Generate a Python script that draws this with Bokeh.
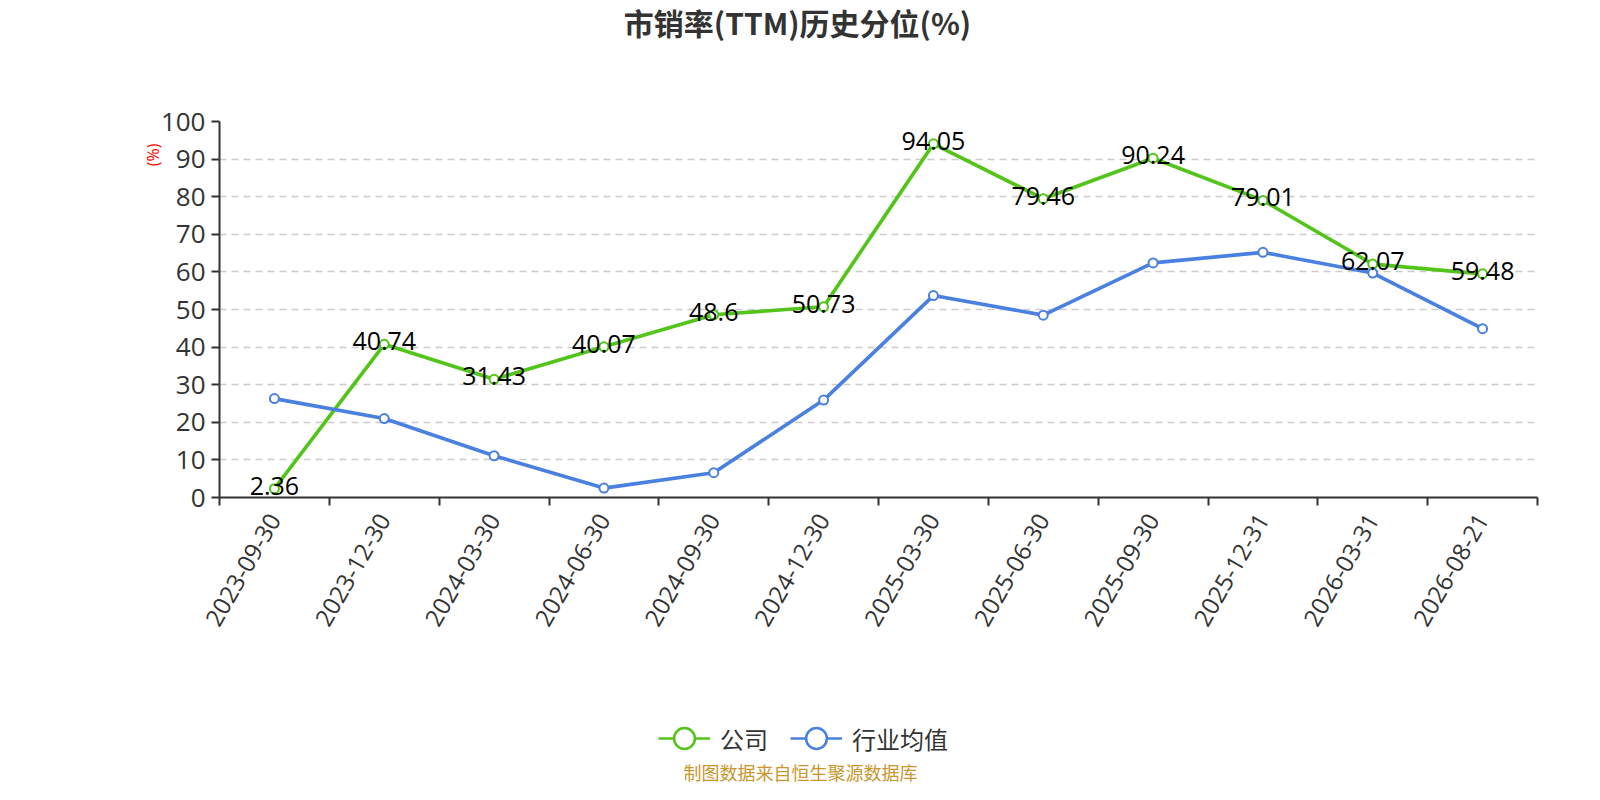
import math
from bokeh.plotting import figure
from bokeh.layouts import column
from bokeh.models import (Range1d, FixedTicker, Legend, LegendItem, ColumnDataSource, Title)
from bokeh.core.properties import value
from bokeh.embed import file_html
from bokeh.resources import INLINE

# ---- data ----
categories = ["2023-09-30", "2023-12-30", "2024-03-30", "2024-06-30", "2024-09-30",
              "2024-12-30", "2025-03-30", "2025-06-30", "2025-09-30", "2025-12-31",
              "2026-03-31", "2026-08-21"]
company = [2.36, 40.74, 31.43, 40.07, 48.6, 50.73, 94.05, 79.46, 90.24, 79.01, 62.07, 59.48]
industry = [26.3, 21.0, 11.1, 2.5, 6.6, 25.9, 53.7, 48.5, 62.4, 65.2, 59.7, 44.9]
y_ticks = [0, 10, 20, 30, 40, 50, 60, 70, 80, 90, 100]

title_text = "市销率(TTM)历史分位(%)"
y_name = "(%)"
series_names = ["公司", "行业均值"]
source_text = "制图数据来自恒生聚源数据库"

GREEN = "#52c41a"
BLUE = "#4a80e0"
NUM_FONT = "Open Sans"
CJK_FONT = "Noto Sans CJK SC"

W = 1584
LEFT, RIGHT = 219, 1537          # frame left / right in page pixels
TOP_H, MAIN_H, BOT_H = 60, 620, 104


def blank_fig(h, y_range):
    f = figure(width=W, height=h, output_backend="svg", toolbar_location=None,
               x_range=Range1d(LEFT, RIGHT), y_range=y_range,
               x_axis_location=None, y_axis_location=None,
               min_border_left=LEFT, min_border_right=W - RIGHT,
               min_border_top=0, min_border_bottom=0)
    f.outline_line_color = None
    f.xgrid.grid_line_color = None
    f.ygrid.grid_line_color = None
    return f

# ---- title ----
top = blank_fig(TOP_H, Range1d(TOP_H, 0))
top.text(x=[797], y=[21], text=[title_text], text_align="center",
         text_baseline="middle", text_font=value(CJK_FONT), text_font_size="30px",
         text_font_style="bold", text_color="#333333")

# ---- main chart ----
xs = [i + 0.5 for i in range(len(categories))]
p = figure(width=W, height=MAIN_H, output_backend="svg", toolbar_location=None,
           x_range=Range1d(0, len(categories)), y_range=Range1d(0, 100),
           min_border_left=LEFT, min_border_right=W - RIGHT, min_border_top=61,
           min_border_bottom=183)
p.outline_line_color = None

xa = p.xaxis[0]
xa.ticker = FixedTicker(ticks=xs, minor_ticks=list(range(len(categories) + 1)))
xa.major_label_overrides = {x: c for x, c in zip(xs, categories)}
xa.major_label_orientation = math.pi / 3
xa.major_tick_out = 0
xa.major_tick_in = 0
xa.minor_tick_out = 8
xa.minor_tick_in = 0
xa.minor_tick_line_color = "#333333"
xa.minor_tick_line_width = 2
xa.axis_line_color = "#333333"
xa.axis_line_width = 2
xa.major_label_text_font = NUM_FONT
xa.major_label_text_font_size = "24px"
xa.major_label_text_color = "#333333"
xa.major_label_standoff = 10

ya = p.yaxis[0]
ya.ticker = FixedTicker(ticks=y_ticks)
ya.minor_tick_line_color = None
ya.major_tick_out = 8
ya.major_tick_in = 0
ya.major_tick_line_color = "#333333"
ya.major_tick_line_width = 2
ya.axis_line_color = "#333333"
ya.axis_line_width = 2
ya.major_label_text_font = NUM_FONT
ya.major_label_text_font_size = "26px"
ya.major_label_text_color = "#333333"
ya.major_label_standoff = 6

p.add_layout(Title(text=y_name, align="right", offset=22, standoff=-12,
                   text_color="#ff0000", text_font=NUM_FONT,
                   text_font_size="16px", text_font_style="normal"), "left")

p.xgrid.grid_line_color = None
p.ygrid.grid_line_color = "#cccccc"
p.ygrid.grid_line_dash = "7 5"
p.ygrid.grid_line_width = 1.5

src_c = ColumnDataSource(dict(x=xs, y=company, t=[str(v) for v in company]))
src_i = ColumnDataSource(dict(x=xs, y=industry))

p.line("x", "y", source=src_c, line_color=GREEN, line_width=3.6)
p.scatter("x", "y", source=src_c, size=9, marker="circle",
          fill_color="white", line_color=GREEN, line_width=2)
p.line("x", "y", source=src_i, line_color=BLUE, line_width=3.6)
p.scatter("x", "y", source=src_i, size=9, marker="circle",
          fill_color="white", line_color=BLUE, line_width=2)
p.text("x", "y", text="t", source=src_c, text_align="center",
       text_baseline="middle", y_offset=-3, text_font=value(NUM_FONT),
       text_font_size="25px", text_color="#000000")

# ---- legend + source ----
bot = blank_fig(BOT_H, Range1d(0, BOT_H))
# legend swatches: the series drawn again here, outside this panel's visible range
lg1 = bot.line("x", "y", source=src_c, line_color=GREEN, line_width=2.5)
sg1 = bot.scatter("x", "y", source=src_c, marker="circle", fill_color="white",
                  line_color=GREEN, line_width=2.5)
lg2 = bot.line("x", "y", source=src_i, line_color=BLUE, line_width=2.5)
sg2 = bot.scatter("x", "y", source=src_i, marker="circle", fill_color="white",
                  line_color=BLUE, line_width=2.5)
legend = Legend(items=[LegendItem(label=series_names[0], renderers=[lg1, sg1]),
                       LegendItem(label=series_names[1], renderers=[lg2, sg2])],
                location=(658 - LEFT, 17), orientation="horizontal",
                glyph_width=52, glyph_height=58, label_standoff=10, spacing=22,
                padding=0, margin=0, border_line_color=None,
                background_fill_alpha=0,
                label_text_font=CJK_FONT, label_text_font_size="24px",
                label_text_color="#333333")
bot.add_layout(legend, "center")
bot.text(x=[800], y=[13], text=[source_text], text_align="center",
         text_baseline="middle", text_font=value(CJK_FONT), text_font_size="18px",
         text_color="#c8962c")

layout = column(top, p, bot, spacing=0)
open("out.html", "w").write(file_html(layout, INLINE))
